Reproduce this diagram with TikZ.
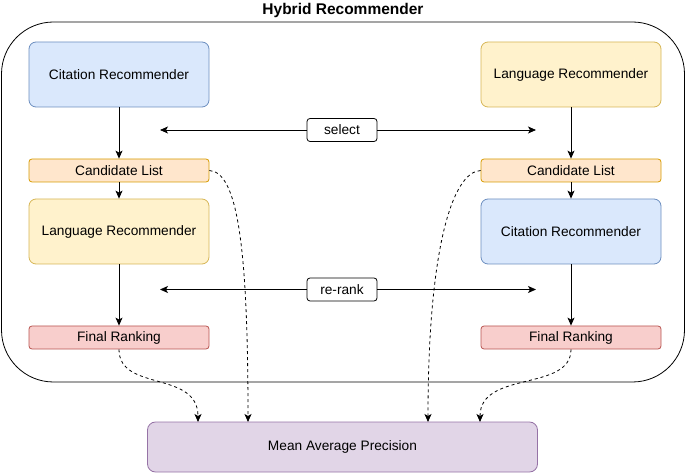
\documentclass[tikz,border=0pt]{standalone}
\usepackage{fontspec}
\setmainfont{Liberation Sans}
\usetikzlibrary{arrows.meta}
\definecolor{bfill}{HTML}{DAE8FC}\definecolor{bline}{HTML}{6C8EBF}
\definecolor{ofill}{HTML}{FFE6CC}\definecolor{oline}{HTML}{D79B00}
\definecolor{yfill}{HTML}{FFF2CC}\definecolor{yline}{HTML}{D6B656}
\definecolor{rfill}{HTML}{F8CECC}\definecolor{rline}{HTML}{B85450}
\definecolor{pfill}{HTML}{E1D5E7}\definecolor{pline}{HTML}{9673A6}
\tikzset{
  box/.style={draw, rounded corners=7pt, minimum width=180pt, minimum height=65pt, inner sep=0pt, font=\fontsize{13.7}{16}\selectfont, line width=0.8pt},
  smallbox/.style={draw, rounded corners=3pt, minimum width=180pt, minimum height=23pt, inner sep=0pt, font=\fontsize{13.7}{16}\selectfont, line width=0.8pt},
  blue/.style={fill=bfill, draw=bline},
  orange/.style={fill=ofill, draw=oline},
  yellow/.style={fill=yfill, draw=yline},
  red/.style={fill=rfill, draw=rline},
  purple/.style={fill=pfill, draw=pline},
  lbl/.style={draw, fill=white, rounded corners=3pt, minimum width=70pt, minimum height=23pt, inner sep=0pt, font=\fontsize{13.7}{16}\selectfont, line width=0.8pt},
  arr/.style={-{Stealth[length=8pt,width=7pt,inset=2pt]}, line width=0.8pt},
  darr/.style={-{Stealth[length=8pt,width=7pt,inset=2pt]}, line width=0.8pt, dash pattern=on 3pt off 3pt},
}
\begin{document}
\begin{tikzpicture}[x=1pt,y=-1pt]
\useasboundingbox (0,0) rectangle (686,473);
% outer container
\draw[line width=0.8pt, rounded corners=52pt] (1.5,22) rectangle (684.5,382);
\node[font=\bfseries\fontsize{15.5}{18}\selectfont] (title) at (343,10) {Hybrid Recommender};
% left column
\node[box, blue] (lcit) at (119,74.5) {Citation Recommender};
\node[smallbox, orange] (lcand) at (119,170.5) {Candidate List};
\node[box, yellow] (llang) at (119,231.5) {Language Recommender};
\node[smallbox, red] (lfin) at (119,337.5) {Final Ranking};
% right column
\node[box, yellow] (rlang) at (571,74.5) {Language Recommender};
\node[smallbox, orange] (rcand) at (571,170.5) {Candidate List};
\node[box, blue] (rcit) at (571,231.5) {Citation Recommender};
\node[smallbox, red] (rfin) at (571,337.5) {Final Ranking};
% bottom
\node[draw, purple, rounded corners=8pt, minimum width=390pt, minimum height=50pt, inner sep=0pt, font=\fontsize{13.7}{16}\selectfont, line width=0.8pt] (map) at (342.5,447) {Mean Average Precision};
% labels
\coordinate (sL) at (160,130);
\coordinate (sR) at (536,130);
\coordinate (rL) at (160,289.5);
\coordinate (rR) at (536,289.5);
\node[lbl] (sel) at (342,130) {select};
\node[lbl] (rer) at (342,289.5) {re-rank};
\draw[arr] (sel) -- (sL);
\draw[arr] (sel) -- (sR);
\draw[arr] (rer) -- (rL);
\draw[arr] (rer) -- (rR);
% vertical arrows
\draw[arr] (lcit) -- (lcand);
\draw[arr] (lcand) -- (llang);
\draw[arr] (llang) -- (lfin);
\draw[arr] (rlang) -- (rcand);
\draw[arr] (rcand) -- (rcit);
\draw[arr] (rcit) -- (rfin);
% dashed curves
\coordinate (m1) at (198,422);
\coordinate (m2) at (248,422);
\coordinate (m3) at (428,422);
\coordinate (m4) at (480,422);
\draw[darr] (lcand.east) .. controls (238,172) and (248,250) .. (m2);
\draw[darr] (lfin.south) .. controls (119,392) and (198,370) .. (m1);
\draw[darr] (rcand.west) .. controls (452,172) and (428,250) .. (m3);
\draw[darr] (rfin.south) .. controls (571,392) and (480,370) .. (m4);
\end{tikzpicture}
\end{document}
